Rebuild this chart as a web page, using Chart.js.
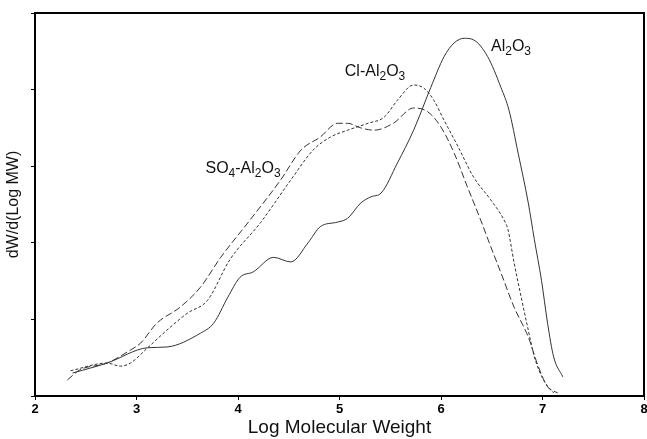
<!DOCTYPE html>
<html>
<head>
<meta charset="utf-8">
<script src="https://cdn.jsdelivr.net/npm/chart.js@4/dist/chart.umd.min.js"></script>
<style>
    html, body { margin: 0; padding: 0; background: #fff; }
    #wrap { width: 647px; height: 439px; }
</style>
</head>
<body>
<div id="wrap"><canvas id="mw_chart"></canvas></div>
<script>
// Al2O3 (solid)
const al_x = [2.37, 2.71, 3.11, 3.30, 3.63, 3.76, 3.90, 4.02, 4.15, 4.35, 4.52, 4.69, 4.81, 4.98, 5.08, 5.21, 5.31, 5.41, 5.57, 5.73, 5.90, 6.03, 6.13, 6.23, 6.32, 6.46, 6.59, 6.67, 6.76, 6.86, 6.92, 6.99, 7.05, 7.11, 7.20];
const al_y = [0.30, 0.43, 0.63, 0.64, 0.82, 0.95, 1.29, 1.55, 1.62, 1.81, 1.75, 2.00, 2.21, 2.27, 2.32, 2.52, 2.60, 2.65, 3.04, 3.47, 4.03, 4.43, 4.61, 4.67, 4.65, 4.43, 4.03, 3.73, 3.17, 2.52, 2.04, 1.51, 0.95, 0.51, 0.25];

// Cl-Al2O3 (short dash)
const cl_x = [2.35, 2.71, 2.84, 2.94, 3.11, 3.30, 3.50, 3.70, 3.92, 4.22, 4.52, 4.74, 4.91, 5.08, 5.28, 5.44, 5.57, 5.73, 5.83, 5.93, 6.03, 6.17, 6.32, 6.49, 6.62, 6.66, 6.72, 6.79, 6.86, 6.92, 7.01, 7.11];
const cl_y = [0.33, 0.43, 0.39, 0.43, 0.63, 0.86, 1.08, 1.25, 1.78, 2.26, 2.82, 3.21, 3.38, 3.47, 3.56, 3.64, 3.86, 4.06, 4.02, 3.86, 3.60, 3.25, 2.86, 2.56, 2.30, 2.17, 1.74, 1.29, 0.86, 0.51, 0.21, 0.04];

// SO4-Al2O3 (long dash)
const so_x = [2.32, 2.44, 2.71, 2.94, 3.04, 3.20, 3.43, 3.63, 3.83, 4.12, 4.42, 4.62, 4.81, 4.98, 5.08, 5.21, 5.34, 5.53, 5.73, 5.87, 6.00, 6.13, 6.26, 6.39, 6.49, 6.59, 6.72, 6.86, 6.96, 7.05, 7.15];
const so_y = [0.21, 0.34, 0.43, 0.60, 0.69, 0.95, 1.16, 1.42, 1.81, 2.30, 2.82, 3.21, 3.38, 3.56, 3.56, 3.50, 3.47, 3.56, 3.76, 3.71, 3.51, 3.17, 2.73, 2.30, 1.95, 1.61, 1.16, 0.77, 0.38, 0.12, 0.04];

const x_ticks = [2, 3, 4, 5, 6, 7, 8];

// curve labels: parts alternate normal / subscript, anchor in data units
const labels = [
    { parts: ['Al', '2', 'O', '3'], x: 6.69, y: 4.57 },
    { parts: ['Cl-Al', '2', 'O', '3'], x: 5.35, y: 4.24 },
    { parts: ['SO', '4', '-Al', '2', 'O', '3'], x: 4.05, y: 2.98 },
];

const pts = (xs, ys) => xs.map((v, i) => ({ x: v, y: ys[i] }));

const line_color = '#333';
const font_family = '"Liberation Sans", Arial, sans-serif';

const framePlugin = {
    id: 'frame',
    afterDraw(chart) {
        const { ctx, chartArea: a } = chart;
        ctx.save();
        ctx.strokeStyle = '#000';
        ctx.lineWidth = 2;
        ctx.strokeRect(a.left, a.top, a.right - a.left, a.bottom - a.top);
        ctx.restore();
    }
};

const labelPlugin = {
    id: 'curveLabels',
    afterDatasetsDraw(chart) {
        const { ctx, scales } = chart;
        ctx.save();
        ctx.fillStyle = '#111';
        ctx.textBaseline = 'alphabetic';
        labels.forEach(l => {
            let w = 0;
            l.parts.forEach((p, i) => {
                ctx.font = (i % 2 ? '12px ' : '16px ') + font_family;
                w += ctx.measureText(p).width;
            });
            let px = scales.x.getPixelForValue(l.x) - w / 2;
            const py = scales.y.getPixelForValue(l.y) + 5;
            l.parts.forEach((p, i) => {
                const sub = i % 2 === 1;
                ctx.font = (sub ? '12px ' : '16px ') + font_family;
                ctx.fillText(p, px, sub ? py + 4 : py);
                px += ctx.measureText(p).width;
            });
        });
        ctx.restore();
    }
};

new Chart(document.getElementById('mw_chart'), {
    type: 'scatter',
    data: {
        datasets: [{
            label: 'Al2O3',
            data: pts(al_x, al_y),
            borderDash: [],
        },
        {
            label: 'Cl-Al2O3',
            data: pts(cl_x, cl_y),
            borderDash: [3, 2],
        },
        {
            label: 'SO4-Al2O3',
            data: pts(so_x, so_y),
            borderDash: [7, 3],
        }]
    },
    options: {
        responsive: true,
        maintainAspectRatio: false,
        animation: false,
        showLine: true,
        borderColor: line_color,
        borderWidth: 1,
        pointRadius: 0,
        cubicInterpolationMode: 'monotone',
        layout: {
            padding: { top: 13, right: 3, left: 0, bottom: 0 }
        },
        plugins: {
            legend: { display: false },
            tooltip: { enabled: false }
        },
        scales: {
            x: {
                type: 'linear',
                min: 2,
                max: 8,
                afterBuildTicks: scale => { scale.ticks = x_ticks.map(v => ({ value: v })); },
                afterFit: scale => { scale.height = 43; scale.paddingLeft = 0; scale.paddingRight = 0; },
                border: { display: true, color: '#000', width: 2 },
                grid: { drawOnChartArea: false, drawTicks: true, tickLength: 4, color: '#000' },
                ticks: {
                    color: '#000',
                    padding: 2,
                    maxRotation: 0,
                    font: { size: 13, weight: 'bold', family: font_family }
                },
                title: {
                    display: true,
                    text: 'Log Molecular Weight',
                    color: '#111',
                    padding: { top: 0, bottom: 0 },
                    font: { size: 19, family: font_family }
                }
            },
            y: {
                min: 0,
                max: 5,
                afterFit: scale => { scale.width = 35; },
                border: { display: true, color: '#000', width: 2 },
                grid: { drawOnChartArea: false, drawTicks: true, tickLength: 4, color: '#000' },
                ticks: { stepSize: 1, display: false },
                title: {
                    display: true,
                    text: 'dW/d(Log MW)',
                    color: '#111',
                    padding: { top: 4, bottom: 0 },
                    font: { size: 16, family: font_family }
                }
            }
        }
    },
    plugins: [framePlugin, labelPlugin]
});
</script>
</body>
</html>
